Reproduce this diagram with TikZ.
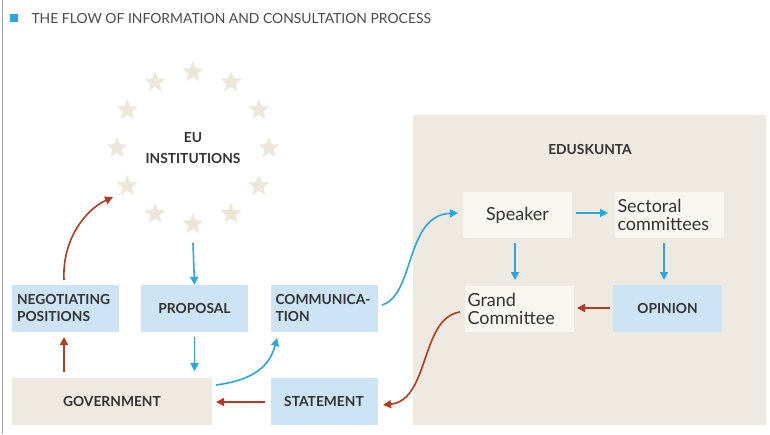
\documentclass[tikz,border=0pt]{standalone}
\usepackage{fontspec}
\setmainfont{Lato}
\usetikzlibrary{shapes.geometric,arrows.meta}
\definecolor{boxblue}{HTML}{CCE4F6}
\definecolor{beige}{HTML}{EEEAE1}
\definecolor{gbox}{HTML}{F8F6F1}
\definecolor{starc}{HTML}{EDE7DA}
\definecolor{ablue}{HTML}{2AA7DF}
\definecolor{ared}{HTML}{B43A20}
\definecolor{txt}{HTML}{333333}
\definecolor{ttl}{HTML}{4A4A4A}
\tikzset{
  lbl/.style={font=\fontsize{13.8}{17}\selectfont\bfseries, text=txt},
  bluebox/.style={fill=boxblue, minimum width=107pt, minimum height=47pt, inner sep=0pt, lbl},
  whitebox/.style={fill=gbox, minimum width=109pt, minimum height=46pt, inner sep=0pt, font=\fontsize{18}{20}\selectfont, text=txt},
  barrow/.style={draw=ablue, line width=1.6pt, -{Triangle[length=8pt,width=8pt]}},
  rarrow/.style={draw=ared, line width=1.6pt, -{Triangle[length=8pt,width=8pt]}},
  euStar/.style={star, star points=5, star point ratio=2.3, fill=starc, minimum size=22pt, inner sep=0pt}
}
\begin{document}
\begin{tikzpicture}[x=1pt,y=-1pt]
\useasboundingbox (0,0) rectangle (770,434);
\fill[white] (0,0) rectangle (770,434);
\draw[gray!70, line width=0.8pt] (2,0) -- (2,434);
% title
\fill[ablue] (10,14) rectangle (18,22);
\node[anchor=west, text=ttl, font=\fontsize{13.9}{15}\selectfont] (title) at (28,18.5) {THE FLOW OF INFORMATION AND CONSULTATION PROCESS};
% stars
\foreach \i in {0,...,11} {
  \node[euStar] (s\i) at ({193+76*sin(30*\i)},{148-76*cos(30*\i)}) {};
}
\node[lbl, align=center, font=\fontsize{13.8}{21}\selectfont\bfseries] (eu) at (193,148) {EU\\INSTITUTIONS};
% Eduskunta panel
\node[fill=beige, minimum width=353pt, minimum height=310pt, inner sep=0pt, anchor=north west] (edu) at (413,115) {};
\node[lbl] (edutitle) at (590,150) {EDUSKUNTA};
% boxes
\node[bluebox, align=left, text width=97pt] (neg) at (65.5,308.5) {NEGOTIATING\\POSITIONS};
\node[bluebox] (prop) at (194.5,308.5) {PROPOSAL};
\node[bluebox, align=left, text width=97pt] (comm) at (324,308.5) {COMMUNICA-\\TION};
\node[fill=beige, minimum width=200pt, minimum height=47pt, inner sep=0pt, lbl] (gov) at (112,401.5) {GOVERNMENT};
\node[bluebox] (stat) at (324,401.5) {STATEMENT};
\node[whitebox] (speak) at (517.5,215) {Speaker};
\node[whitebox, align=left, text width=104pt] (sect) at (669.5,215) {Sectoral\\[-2pt]committees};
\node[whitebox, align=left, text width=104pt] (grand) at (519.5,308.5) {Grand\\[-2pt]Committee};
\node[bluebox, minimum width=109pt] (opin) at (667.5,308.5) {OPINION};
% blue arrows
\draw[barrow] (193,243) -- (prop.north);
\draw[barrow] (prop.south) ++(0,5) -- ++(0,34);
\draw[barrow] (216,385) .. controls (255,380) and (270,365) .. (277,338);
\draw[barrow] (382,305) .. controls (415,295) and (405,215) .. (458,213);
\draw[barrow] (576,213) -- (608,213);
\draw[barrow] (515,243) -- (515,280);
\draw[barrow] (664,243) -- (664,280);
% red arrows
\draw[rarrow] (610,308) -- (577,308);
\draw[rarrow] (460,312) .. controls (420,318) and (430,400) .. (383,405);
\draw[rarrow] (265,402) -- (216,402);
\draw[rarrow] (64,372) -- (64,337);
\draw[rarrow] (64,280) .. controls (62,240) and (85,210) .. (113,197);
\end{tikzpicture}
\end{document}
